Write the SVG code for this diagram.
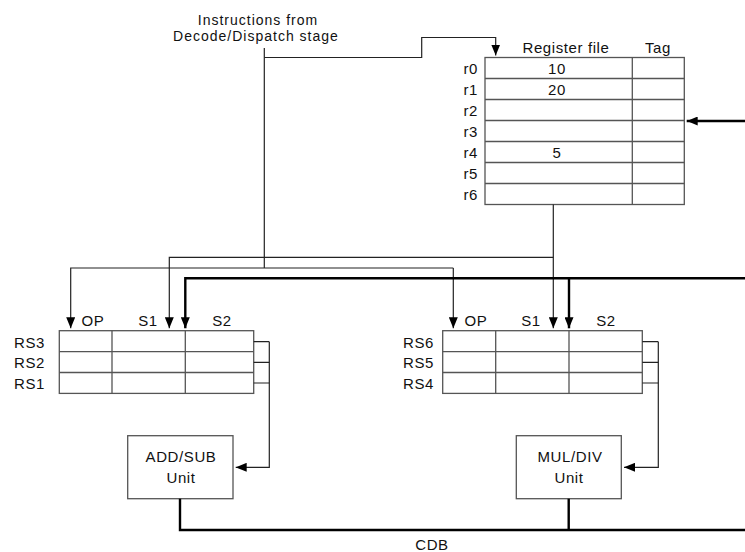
<svg xmlns="http://www.w3.org/2000/svg" width="745" height="552" viewBox="0 0 745 552">
<style>
text{font-family:"Liberation Sans",Arial,Helvetica,sans-serif;font-size:15px;letter-spacing:0.6px;fill:#111}
.c{text-anchor:middle}
.e{text-anchor:end}
.lab{font-size:14px;letter-spacing:1px}
.tb{fill:#fff;stroke:#555;stroke-width:1.3}
.gl{stroke:#555;stroke-width:1.3;fill:none}
.w{fill:none;stroke:#222;stroke-width:1.2}
.k{fill:none;stroke:#000;stroke-width:2.4}
</style>
<defs>
<marker id="ah" viewBox="0 0 11 9" refX="11" refY="4.5" markerWidth="11" markerHeight="9" markerUnits="userSpaceOnUse" orient="auto">
<path d="M0,0 L11,4.5 L0,9 z" fill="#000"/>
</marker>
</defs>

<g id="instr-label">
<text class="c lab" x="258" y="24.5">Instructions from</text>
<text class="c lab" x="256" y="40.5">Decode/Dispatch stage</text>
</g>

<g id="register-file">
<text class="c" x="566" y="52.5">Register file</text>
<text class="c" x="658" y="52.5">Tag</text>
<rect class="tb" x="485" y="57.5" width="199.3" height="147"/>
<path class="gl" d="M632.3,57.5V204.5M485,78.5H684.3M485,99.5H684.3M485,120.5H684.3M485,141.5H684.3M485,162.5H684.3M485,183.5H684.3"/>
<text class="e" x="478" y="74">r0</text>
<text class="e" x="478" y="95">r1</text>
<text class="e" x="478" y="116">r2</text>
<text class="e" x="478" y="137">r3</text>
<text class="e" x="478" y="158">r4</text>
<text class="e" x="478" y="179">r5</text>
<text class="e" x="478" y="200">r6</text>
<text class="c" x="557" y="74">10</text>
<text class="c" x="557" y="95">20</text>
<text class="c" x="557" y="158">5</text>
</g>

<g id="rs-left">
<text class="c" x="93" y="326">OP</text>
<text class="c" x="148" y="326">S1</text>
<text class="c" x="222" y="326">S2</text>
<rect class="tb" x="59.3" y="330.7" width="194.4" height="62.7"/>
<path class="gl" d="M112,330.7V393.4M185.3,330.7V393.4M59.3,351.6H253.7M59.3,372.5H253.7"/>
<text class="e" x="45" y="347.5">RS3</text>
<text class="e" x="45" y="368.3">RS2</text>
<text class="e" x="45" y="389">RS1</text>
</g>

<g id="rs-right">
<text class="c" x="476" y="326">OP</text>
<text class="c" x="531" y="326">S1</text>
<text class="c" x="606" y="326">S2</text>
<rect class="tb" x="442.7" y="330.7" width="199.6" height="62.7"/>
<path class="gl" d="M495.7,330.7V393.4M569,330.7V393.4M442.7,351.6H642.3M442.7,372.5H642.3"/>
<text class="e" x="434" y="347.5">RS6</text>
<text class="e" x="434" y="368.3">RS5</text>
<text class="e" x="434" y="389">RS4</text>
</g>

<g id="add-sub-unit">
<rect class="tb" x="127.7" y="435.7" width="105.3" height="63"/>
<text class="c" x="181" y="461.7">ADD/SUB</text>
<text class="c" x="181" y="482.7">Unit</text>
</g>

<g id="mul-div-unit">
<rect class="tb" x="516.3" y="435.7" width="105" height="63"/>
<text class="c" x="570" y="461.7">MUL/DIV</text>
<text class="c" x="569" y="482.7">Unit</text>
</g>

<g id="cdb-label">
<text class="c" x="432" y="550">CDB</text>
</g>

<g id="connectors">
<path class="w" d="M264.3,48V268"/>
<path class="w" d="M264.3,57.5H421.7V37.5H495.7V55.5" marker-end="url(#ah)"/>
<path class="w" d="M453.3,268H70.7V328.3" marker-end="url(#ah)"/>
<path class="w" d="M453.3,268V328.3" marker-end="url(#ah)"/>
<path class="w" d="M553.3,257.3H169.3V328.3" marker-end="url(#ah)"/>
<path class="w" d="M553.3,204.5V328.3" marker-end="url(#ah)"/>
<path class="k" d="M745,278.3H185.3V328.3" marker-end="url(#ah)"/>
<path class="k" d="M569,278.3V328.3" marker-end="url(#ah)"/>
<path class="k" d="M745,121H686.7" marker-end="url(#ah)"/>
<path class="w" d="M253.7,341.7H269.3M253.7,362.3H269.3M253.7,383H269.3"/>
<path class="w" d="M269.3,341.7V467.3H235.7" marker-end="url(#ah)"/>
<path class="w" d="M642.3,341.7H658.3M642.3,362.3H658.3M642.3,383H658.3"/>
<path class="w" d="M658.3,341.7V467.3H624" marker-end="url(#ah)"/>
<path class="k" d="M180,498.7V530H745M568.7,498.7V530"/>
</g>
</svg>
